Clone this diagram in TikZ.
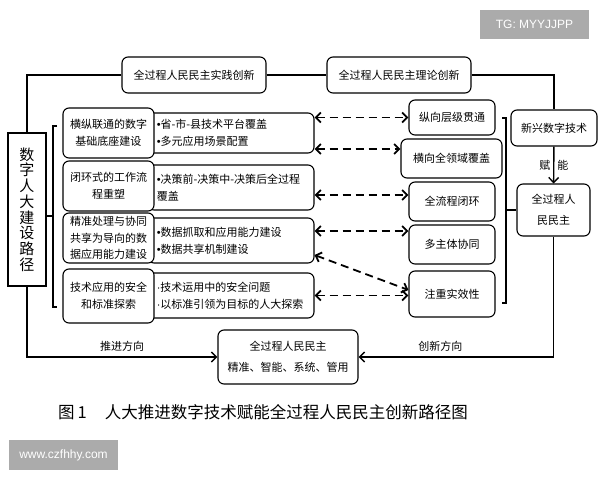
\documentclass[tikz,border=0pt]{standalone}
\usepackage{fontspec}
\setmainfont{Noto Sans CJK SC}
\newfontfamily\wmfont{Liberation Sans}
\newcommand{\bul}{{\wmfont\textbullet}}
\newcommand{\sdot}{{\wmfont\textperiodcentered}}
\usetikzlibrary{arrows.meta}

\begin{document}
\begin{tikzpicture}[x=1pt,y=-1pt,
		>={Straight Barb[length=5pt,width=10pt]},
		box/.style={draw,rounded corners=6pt,line width=1.1pt,align=center,inner sep=0pt,font=\fontsize{11}{16.5}\selectfont},
		plainbox/.style={draw,line width=1.1pt,inner sep=0pt,align=center},
		frame/.style={draw,rounded corners=6pt,line width=1.1pt,inner sep=0pt,minimum width=166pt},
		bullets/.style={anchor=west,align=left,inner sep=2pt,font=\fontsize{11}{17}\selectfont},
		tag/.style={inner sep=1pt,font=\fontsize{11}{11}\selectfont},
		link/.style={line width=1.4pt},
		dasharrow/.style={<->,line width=1.8pt,dash pattern=on 8pt off 5pt},
		watermark/.style={fill=black!33,text=white,inner sep=0pt,font=\wmfont\fontsize{12}{12}\selectfont}
	]
	\useasboundingbox (0,0) rectangle (600,480);
	\fill[white] (0,0) rectangle (600,480);
	
	\node[plainbox,minimum width=38pt,minimum height=153pt,font=\fontsize{15}{15.7}\selectfont] (path) at (27,209.5) {数\\字\\人\\大\\建\\设\\路\\径};
	\node[box,minimum width=144pt,minimum height=36pt] (practice) at (194,75) {全过程人民民主实践创新};
	\node[box,minimum width=144pt,minimum height=36pt] (theory) at (399,75) {全过程人民民主理论创新};
	\node[box,minimum width=86pt,minimum height=36pt] (tech) at (554,128) {新兴数字技术};
	\node[box,minimum width=73pt,minimum height=52pt,font=\fontsize{11}{21}\selectfont] (wpd) at (553.5,210) {全过程人\\民民主};
	\node[box,minimum width=140pt,minimum height=54pt,font=\fontsize{11}{21}\selectfont] (goal) at (288,357) {全过程人民民主\\精准、智能、系统、管用};
	
	\node[frame,minimum height=40pt] (fa) at (231,133) {};
	\node[frame,minimum height=45pt] (fb) at (231,187.5) {};
	\node[frame,minimum height=45pt] (fc) at (231,240.5) {};
	\node[frame,minimum height=45pt] (fd) at (231,295.5) {};
	
	\node[box,fill=white,minimum width=91pt,minimum height=50pt] (ca) at (108.5,133) {横纵联通的数字\\基础底座建设};
	\node[box,fill=white,minimum width=91pt,minimum height=50pt] (cb) at (108.5,186) {闭环式的工作流\\程重塑};
	\node[box,fill=white,minimum width=91pt,minimum height=50pt] (cc) at (108.5,238) {精准处理与协同\\共享为导向的数\\据应用能力建设};
	\node[box,fill=white,minimum width=91pt,minimum height=54pt] (cd) at (108.5,296) {技术应用的安全\\和标准探索};
	
	\node[bullets] (ta) at (ca.east |- fa) {\bul 省-市-县技术平台覆盖\\\bul 多元应用场景配置};
	\node[bullets] (tb) at (cb.east |- fb) {\bul 决策前-决策中-决策后全过程\\覆盖};
	\node[bullets] (tc) at (cc.east |- fc) {\bul 数据抓取和应用能力建设\\\bul 数据共享机制建设};
	\node[bullets] (td) at (cd.east |- fd) {\sdot 技术运用中的安全问题\\\sdot 以标准引领为目标的人大探索};
	
	\node[box,minimum width=86pt,minimum height=35pt] (vert) at (452,117.5) {纵向层级贯通};
	\node[box,minimum width=101pt,minimum height=39pt] (horiz) at (451.5,158.5) {横向全领域覆盖};
	\node[box,minimum width=86pt,minimum height=39pt] (loop) at (452,201.5) {全流程闭环};
	\node[box,minimum width=86pt,minimum height=39pt] (multi) at (452,244.5) {多主体协同};
	\node[box,minimum width=86pt,minimum height=46pt] (eff) at (452,294) {注重实效性};
	
	\draw[link] (path.north) |- (practice.west);
	\draw[link] (practice) -- (theory);
	\draw[link] (theory.east) -| (tech.north);
	\draw[link,->] (tech) -- node[tag] {赋\hspace{7pt}能} (wpd);
	\draw[link,->] (wpd.south) |- node[tag,pos=.79,above=4pt] {创新方向} (goal.east);
	\draw[link,->] (path.south) |- node[tag,pos=.75,above=4pt] {推进方向} (goal.west);
	
	\coordinate (lbrace) at (53,216);
	\draw[link] (57,126) -- (53,126) -- (53,307) -- (57,307);
	\draw[link] (lbrace -| path.east) -- (lbrace);
	\coordinate (rbrace) at (506,210);
	\draw[link] (502,118) -- (506,118) -- (506,303) -- (502,303);
	\draw[link] (rbrace) -- (wpd.west);
	
	\draw[dasharrow] (vert.west -| fa.east) -- (vert.west);
	\draw[dasharrow] ([yshift=-16pt]fa.east) -- ([yshift=9.5pt]horiz.west);
	\draw[dasharrow] ([yshift=-7.5pt]fb.east) -- ([yshift=6.5pt]loop.west);
	\draw[dasharrow] ([yshift=9.5pt]fc.east) -- ([yshift=13.5pt]multi.west);
	\draw[dasharrow] ([yshift=-14.5pt]fc.east) -- ([yshift=4pt]eff.west);
	\draw[dasharrow] (fd.east) -- ([yshift=-1.5pt]eff.west);
	
	\node[font=\fontsize{16.5}{16.5}\selectfont] (caption) at (263,412) {图\hspace{3pt}1\hspace{18pt}人大推进数字技术赋能全过程人民民主创新路径图};
	\node[watermark,minimum width=109pt,minimum height=29pt] (tg) at (534.5,24.5) {TG: MYYJJPP};
	\node[watermark,minimum width=109pt,minimum height=30pt] (site) at (63.5,455) {www.czfhhy.com};
\end{tikzpicture}
\end{document}
